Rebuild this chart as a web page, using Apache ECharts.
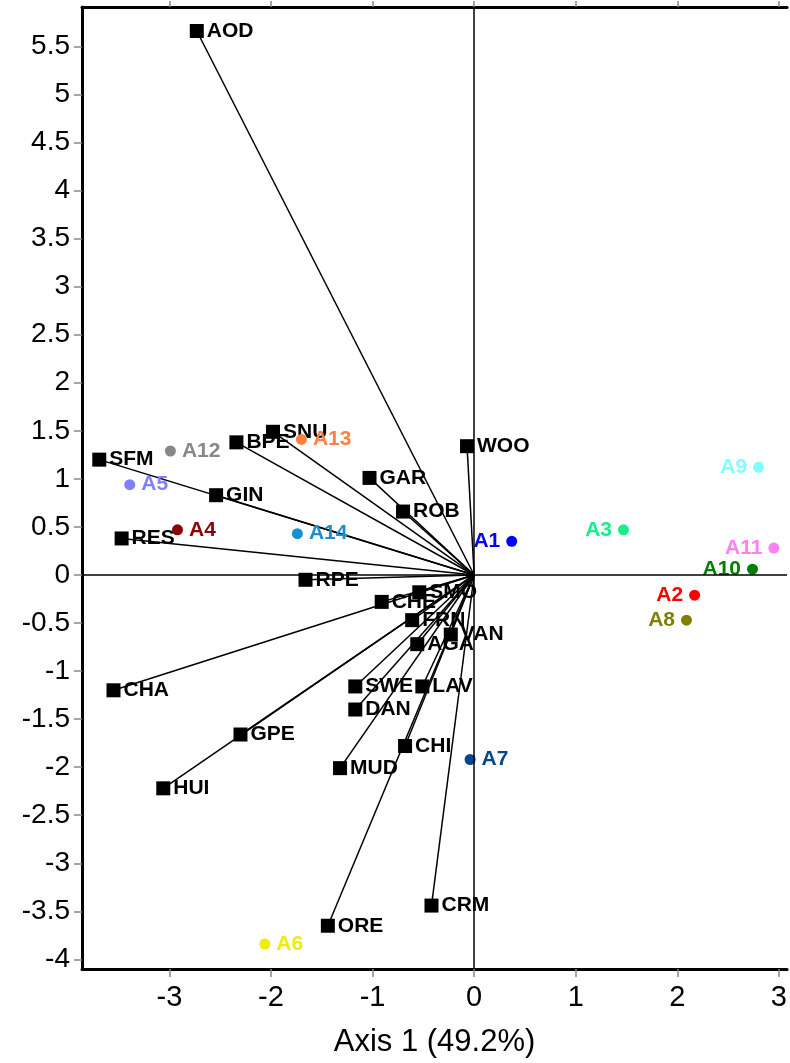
<!DOCTYPE html>
<html><head><meta charset="utf-8">
<script src="https://cdn.jsdelivr.net/npm/echarts@6/dist/echarts.min.js"></script>
<style>html,body{margin:0;padding:0;background:#fff}#c{width:790px;height:1063px}</style>
</head><body><div id="c"></div>
<script>
// ---- data ----
const speciesNames = ['AOD','SNU','BPE','SFM','GIN','RES','GAR','ROB','WOO','RPE','CHE','SMO','FRN','VAN','AGA','LAV','SWE','DAN','CHI','MUD','CHA','GPE','HUI','ORE','CRM'];
const speciesX = [-2.73,-1.98,-2.34,-3.69,-2.54,-3.47,-1.03,-0.70,-0.07,-1.66,-0.91,-0.54,-0.61,-0.23,-0.56,-0.51,-1.17,-1.17,-0.68,-1.32,-3.55,-2.30,-3.06,-1.44,-0.42];
const speciesY = [5.66,1.49,1.38,1.20,0.83,0.38,1.01,0.66,1.34,-0.05,-0.28,-0.18,-0.47,-0.62,-0.72,-1.16,-1.16,-1.40,-1.78,-2.01,-1.20,-1.66,-2.22,-3.65,-3.44];
const siteNames = ['A1','A2','A3','A4','A5','A6','A7','A8','A9','A10','A11','A12','A13','A14'];
const siteX = [0.37,2.17,1.47,-2.92,-3.39,-2.06,-0.04,2.09,2.80,2.74,2.95,-2.99,-1.70,-1.74];
const siteY = [0.35,-0.21,0.47,0.47,0.94,-3.84,-1.92,-0.47,1.12,0.06,0.28,1.29,1.41,0.43];
const xTickValues = [-3,-2,-1,0,1,2,3];
const yTickValues = [-4,-3.5,-3,-2.5,-2,-1.5,-1,-0.5,0,0.5,1,1.5,2,2.5,3,3.5,4,4.5,5,5.5];
const xAxisTitle = 'Axis 1 (49.2%)';

// ---- styles ----
const FONT = '"Liberation Sans", Arial, sans-serif';
const siteColors = {A1:'#0000ff',A2:'#ff0000',A3:'#1aee88',A4:'#8b0000',A5:'#8080ff',A6:'#eeee00',A7:'#00478f',A8:'#808000',A9:'#80ffff',A10:'#008000',A11:'#ff80f0',A12:'#888888',A13:'#ff8040',A14:'#1a8fd0'};
const siteLabelLeft = {A1:true,A2:true,A3:true,A8:true,A9:true,A10:true,A11:true};
const X_MIN = -3.86, X_MAX = 3.08, Y_MIN = -4.10, Y_MAX = 5.91;

const chart = echarts.init(document.getElementById('c'), null, {renderer:'canvas'});

const vectorData = speciesNames.map((n,i)=>({coords:[[0,0],[speciesX[i],speciesY[i]]]}));
const speciesData = speciesNames.map((n,i)=>({name:n,value:[speciesX[i],speciesY[i]]}));
const siteData = siteNames.map((n,i)=>({
  name:n, value:[siteX[i],siteY[i]],
  itemStyle:{color:siteColors[n], opacity:1},
  label:{color:siteColors[n], position: siteLabelLeft[n]?'left':'right'}
}));

const tickStyle = {show:true, length:8, lineStyle:{color:'#888', width:1.5}};
chart.setOption({
  animation:false,
  backgroundColor:'#fff',
  grid:{left:82, right:0, top:7, bottom:87, containLabel:false},
  xAxis:[{
    type:'value', position:'bottom', min:X_MIN, max:X_MAX,
    name:xAxisTitle, nameLocation:'middle', nameGap:58,
    nameTextStyle:{fontFamily:FONT, fontSize:31, color:'#000'},
    axisLine:{show:true, onZero:false, lineStyle:{color:'#000', width:3}},
    axisTick:Object.assign({customValues:xTickValues}, tickStyle),
    axisLabel:{customValues:xTickValues, fontFamily:FONT, fontSize:29, color:'#000', margin:14},
    splitLine:{show:false}
  },{
    type:'value', position:'top', min:X_MIN, max:X_MAX,
    axisLine:{show:true, onZero:false, lineStyle:{color:'#000', width:3}},
    axisTick:Object.assign({customValues:xTickValues}, tickStyle, {length:6}),
    axisLabel:{show:false},
    splitLine:{show:false}
  }],
  yAxis:{
    type:'value', min:Y_MIN, max:Y_MAX,
    axisLine:{show:true, onZero:false, lineStyle:{color:'#000', width:3}},
    axisTick:Object.assign({customValues:yTickValues}, tickStyle),
    axisLabel:{customValues:yTickValues, fontFamily:FONT, fontSize:28, color:'#000', margin:12},
    splitLine:{show:false}
  },
  series:[
    {
      type:'lines', coordinateSystem:'cartesian2d', xAxisIndex:0, yAxisIndex:0,
      data:vectorData, symbol:'none', silent:true, z:2,
      lineStyle:{color:'#000', width:1.5, opacity:1},
      markLine:{
        silent:true, symbol:'none', label:{show:false},
        lineStyle:{color:'#000', width:1.5, type:'solid', opacity:1},
        data:[{xAxis:0},{yAxis:0}]
      }
    },
    {
      type:'scatter', xAxisIndex:0, yAxisIndex:0, data:speciesData, symbol:'rect', symbolSize:14, z:3,
      itemStyle:{color:'#000', opacity:1},
      label:{show:true, position:'right', distance:3, formatter:'{b}', fontFamily:FONT, fontSize:21, fontWeight:'bold', color:'#000'}
    },
    {
      type:'scatter', xAxisIndex:0, yAxisIndex:0, data:siteData, symbol:'circle', symbolSize:11, z:4,
      label:{show:true, distance:6, formatter:'{b}', fontFamily:FONT, fontSize:21, fontWeight:'bold'}
    }
  ]
});
</script></body></html>
